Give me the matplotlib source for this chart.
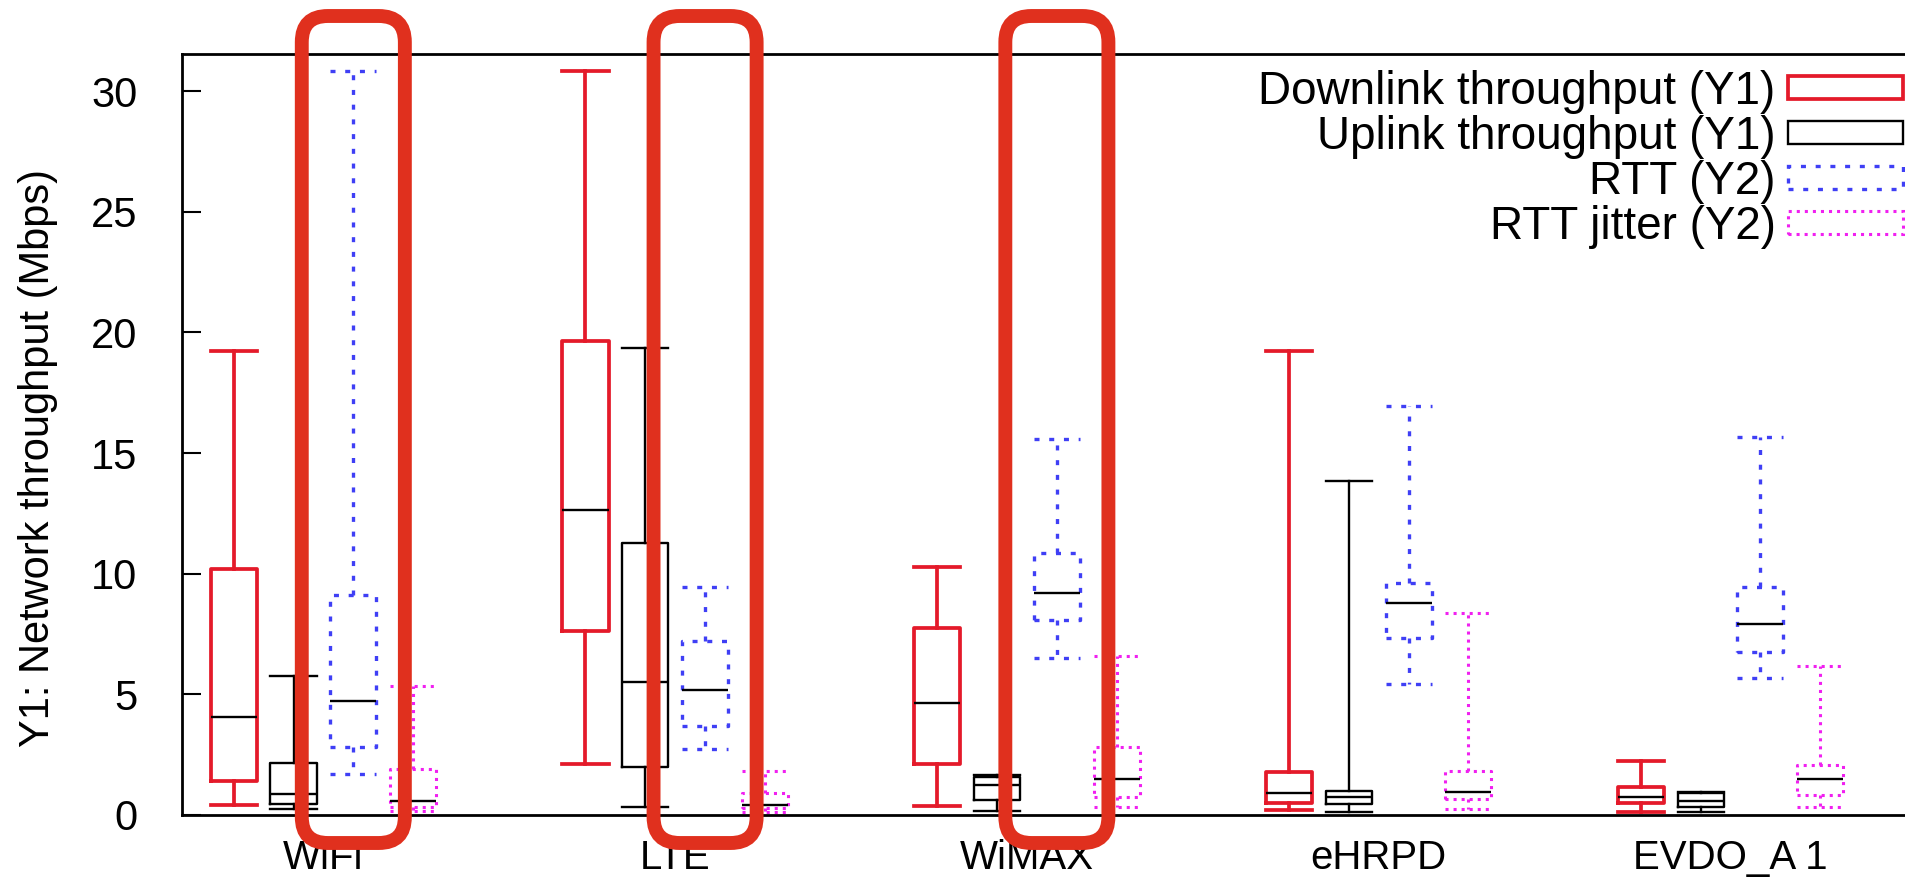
import matplotlib.pyplot as plt
import matplotlib.patches as mpatches

plt.rcParams['font.family'] = ['Liberation Sans', 'DejaVu Sans']
plt.rcParams['lines.scale_dashes'] = False

# categories and boxplot stats
categories = ['WiFi', 'LTE', 'WiMAX', 'eHRPD', 'EVDO_A 1']
highlighted = ['WiFi', 'LTE', 'WiMAX']

# Downlink throughput (Y1)
dl_lo = [0.41, 2.10, 0.37, 0.21, 0.14]
dl_q1 = [1.42, 7.63, 2.11, 0.51, 0.48]
dl_med = [4.07, 12.64, 4.66, 0.92, 0.76]
dl_q3 = [10.18, 19.66, 7.76, 1.77, 1.15]
dl_hi = [19.24, 30.85, 10.29, 19.24, 2.24]

# Uplink throughput (Y1)
ul_lo = [0.24, 0.32, 0.18, 0.14, 0.14]
ul_q1 = [0.44, 2.00, 0.62, 0.44, 0.35]
ul_med = [0.86, 5.53, 1.24, 0.76, 0.60]
ul_q3 = [2.14, 11.26, 1.56, 0.99, 0.90]
ul_hi = [5.77, 19.35, 1.65, 13.84, 0.95]

# RTT (Y2)
rtt_lo = [1.69, 2.72, 6.52, 5.42, 5.66]
rtt_q1 = [2.83, 3.70, 8.08, 7.32, 6.77]
rtt_med = [4.74, 5.18, 9.19, 8.80, 7.92]
rtt_q3 = [9.12, 7.21, 10.87, 9.60, 9.44]
rtt_hi = [30.83, 9.46, 15.57, 16.96, 15.68]

# RTT jitter (Y2)
jit_lo = [0.15, 0.14, 0.32, 0.24, 0.35]
jit_q1 = [0.35, 0.29, 0.76, 0.65, 0.83]
jit_med = [0.60, 0.41, 1.49, 0.97, 1.48]
jit_q3 = [1.89, 0.90, 2.83, 1.84, 2.07]
jit_hi = [5.36, 1.84, 6.59, 8.36, 6.19]

labels = ['Downlink throughput (Y1)', 'Uplink throughput (Y1)', 'RTT (Y2)', 'RTT jitter (Y2)']

red = '#E41A2A'
blue = '#3F3FF5'
magenta = '#F020F0'
series = [
    (dl_lo, dl_q1, dl_med, dl_q3, dl_hi, red, 2.7, '-'),
    (ul_lo, ul_q1, ul_med, ul_q3, ul_hi, 'black', 1.7, '-'),
    (rtt_lo, rtt_q1, rtt_med, rtt_q3, rtt_hi, blue, 2.4, (0, (3.6, 7.0))),
    (jit_lo, jit_q1, jit_med, jit_q3, jit_hi, magenta, 2.2, (0, (2.2, 3.6))),
]
offsets = [-0.255, -0.085, 0.085, 0.255]
bw = 0.131

fig = plt.figure(figsize=(19.05, 8.77), dpi=100)
ax = fig.add_axes([182 / 1905, 62 / 877, 1742 / 1905, 761 / 877])

handles = []
for k, (lo, q1, med, q3, hi, col, lw, ls) in enumerate(series):
    stats = []
    for i in range(len(categories)):
        stats.append({'whislo': lo[i], 'q1': q1[i], 'med': med[i], 'q3': q3[i], 'whishi': hi[i]})
    pos = [i + offsets[k] for i in range(len(categories))]
    line = dict(color=col, linewidth=lw, linestyle=ls)
    ax.bxp(stats, positions=pos, widths=bw, capwidths=bw, showfliers=False,
           manage_ticks=False, boxprops=line, whiskerprops=line, capprops=line,
           medianprops=dict(color='black', linewidth=1.7, linestyle='-'))
    handles.append(mpatches.Patch(facecolor='none', edgecolor=col, linewidth=lw,
                                  linestyle=ls, label=labels[k]))

ax.set_xlim(-0.402, 4.55)
ax.set_ylim(0, 31.54)
ax.set_yticks(range(0, 31, 5))
ax.set_xticks(range(len(categories)))
ax.set_xticklabels(categories)
ax.tick_params(axis='y', direction='in', length=13.7, width=1.5, labelsize=30, pad=32)
ax.tick_params(axis='x', length=0, labelsize=29, pad=17)
for s in ax.spines.values():
    s.set_linewidth(2)

fig.text(38 / 1905, 0.478, 'Y1: Network throughput (Mbps)', rotation=90,
         ha='center', va='center', fontsize=30)

ax.legend(handles=handles, loc='upper right', frameon=False, markerfirst=False,
          fontsize=33, handlelength=2.52, handleheight=0.39, handletextpad=0.26,
          labelspacing=0.02, borderpad=0, borderaxespad=0,
          bbox_to_anchor=(1903 / 1905, (877 - 70) / 877), bbox_transform=fig.transFigure)

# red highlight frames around the RTT boxes
W, H = fig.bbox.width, fig.bbox.height
for name in highlighted:
    cx = categories.index(name) + offsets[2]
    x0 = ax.transData.transform((cx - 0.1465, 0))[0] / W
    x1 = ax.transData.transform((cx + 0.1465, 0))[0] / W
    y0 = (877 - 843) / 877
    y1 = (877 - 16) / 877
    frame = mpatches.FancyBboxPatch((x0, y0), x1 - x0, y1 - y0,
                                    boxstyle='round,pad=0,rounding_size=0.0137',
                                    mutation_aspect=1905 / 877, transform=fig.transFigure,
                                    fill=False, edgecolor='#E0301E', linewidth=10,
                                    zorder=10, clip_on=False)
    fig.add_artist(frame)

fig.savefig('out.png', dpi=100)
